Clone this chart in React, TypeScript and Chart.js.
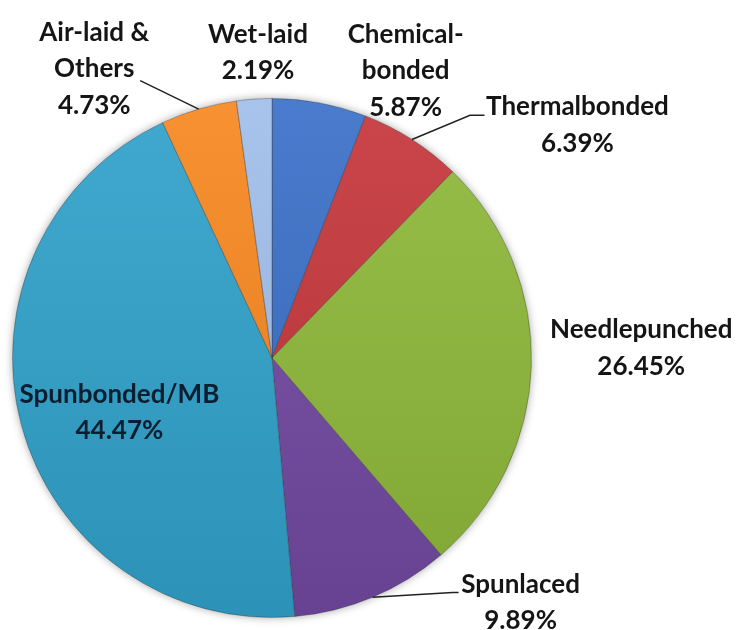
import { useEffect, useRef } from 'react';
import { Chart, registerables } from 'chart.js';

Chart.register(...registerables);

const categories = ['Chemical-bonded', 'Thermalbonded', 'Needlepunched', 'Spunlaced', 'Spunbonded/MB', 'Air-laid & Others', 'Wet-laid'];
const shares = [5.87, 6.39, 26.45, 9.89, 44.47, 4.73, 2.19];
const labelLines = [['Chemical-', 'bonded'], ['Thermalbonded'], ['Needlepunched'], ['Spunlaced'], ['Spunbonded/MB'], ['Air-laid &', 'Others'], ['Wet-laid']];
const sliceColors = ['#3a70c8', '#c5363a', '#8fb83a', '#7449a2', '#31a2cb', '#f7871f', '#a2bfea'];

// label placement relative to pie centre, in units of the pie radius (first baseline)
const labelAnchor = [
  [0.515, -1.215],
  [1.177, -0.935],
  [1.423, -0.077],
  [0.958, 0.904],
  [-0.588, 0.173],
  [-0.685, -1.223],
  [-0.054, -1.215],
];
// leader lines: elbow and optional tail, in radius units (null = none)
const leaders: (number[][] | null)[] = [
  null,
  [[0.763, -0.935], [0.819, -0.935]],
  null,
  [[0.696, 0.904], [0.719, 0.904]],
  null,
  [[-0.508, -1.069]],
  null,
];
const labelColors = ['#151515', '#151515', '#151515', '#151515', '#0a1e30', '#151515', '#151515'];

function shade(hex: string, amt: number) {
  const n = parseInt(hex.slice(1), 16);
  let r = (n >> 16) & 255, g = (n >> 8) & 255, b = n & 255;
  const f = (c: number) => amt >= 0 ? Math.round(c + (255 - c) * amt) : Math.round(c * (1 + amt));
  r = f(r); g = f(g); b = f(b);
  return `rgb(${r},${g},${b})`;
}

const labelPlugin = {
  id: 'sliceLabels',
  beforeDatasetsDraw(chart: any) {
    const meta = chart.getDatasetMeta(0);
    if (!meta.data.length) return;
    const a = meta.data[0];
    const ctx = chart.ctx;
    ctx.save();
    ctx.shadowColor = 'rgba(0,0,0,0.35)';
    ctx.shadowBlur = 8;
    ctx.fillStyle = '#ffffff';
    ctx.beginPath();
    ctx.arc(a.x, a.y, a.outerRadius, 0, Math.PI * 2);
    ctx.fill();
    ctx.restore();
  },
  afterDatasetsDraw(chart: any) {
    const ctx = chart.ctx;
    const meta = chart.getDatasetMeta(0);
    meta.data.forEach((arc: any, i: number) => {
      const { x, y, startAngle, endAngle, outerRadius } = arc.getProps(['x', 'y', 'startAngle', 'endAngle', 'outerRadius'], true);
      const r = outerRadius;
      const mid = (startAngle + endAngle) / 2;
      const lead = leaders[i];
      if (lead) {
        ctx.save();
        ctx.strokeStyle = '#222';
        ctx.lineWidth = 1.5;
        ctx.beginPath();
        ctx.moveTo(x + Math.cos(mid) * r, y + Math.sin(mid) * r);
        lead.forEach((p) => ctx.lineTo(x + p[0] * r, y + p[1] * r));
        ctx.stroke();
        ctx.restore();
      }
      const lines = [...labelLines[i], `${shares[i].toFixed(2)}%`];
      const lx = x + labelAnchor[i][0] * r;
      const ly = y + labelAnchor[i][1] * r;
      ctx.save();
      ctx.font = 'bold 26px Lato';
      ctx.fillStyle = labelColors[i];
      ctx.textAlign = 'center';
      ctx.textBaseline = 'alphabetic';
      lines.forEach((t, k) => ctx.fillText(t, lx, ly + k * 36.5));
      ctx.restore();
    });
  },
};

export default function App() {
  const ref = useRef<HTMLCanvasElement>(null);
  useEffect(() => {
    if (!ref.current) return;
    const chart = new Chart(ref.current, {
      type: 'pie',
      data: {
        labels: categories,
        datasets: [
          {
            data: shares,
            backgroundColor: (c: any) => {
              const base = sliceColors[c.dataIndex];
              const area = c.chart.chartArea;
              if (!area) return base;
              const g = c.chart.ctx.createLinearGradient(0, area.top, 0, area.bottom);
              g.addColorStop(0, shade(base, 0.08));
              g.addColorStop(1, shade(base, -0.1));
              return g;
            },
            borderColor: 'rgba(40,40,40,0.35)',
            borderWidth: 1,
          },
        ],
      },
      options: {
        responsive: false,
        animation: false,
        devicePixelRatio: 1,
        rotation: 0,
        layout: { padding: { left: 12, top: 98, right: 210, bottom: 12 } },
        plugins: { legend: { display: false }, tooltip: { enabled: false } },
      },
      plugins: [labelPlugin],
    });
    return () => chart.destroy();
  }, []);
  return (
    <div style={{ position: 'absolute', left: 0, top: 0, width: 742, height: 630, background: '#fff' }}>
      <canvas ref={ref} width={742} height={630} style={{ display: 'block' }} />
    </div>
  );
}
